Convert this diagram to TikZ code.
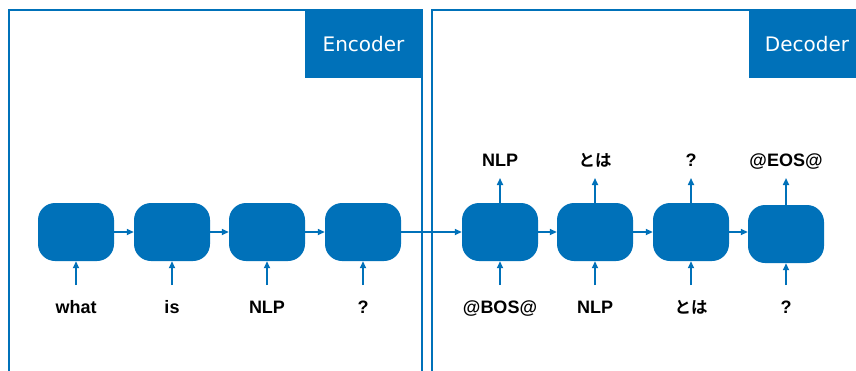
\documentclass[tikz,border=0pt]{standalone}
\usepackage{fontspec}
\setmainfont{Liberation Sans}
\newfontfamily\titlefont{DejaVu Sans}
\newfontfamily\jpfont{Noto Sans CJK JP Bold}
\usetikzlibrary{arrows.meta}
\definecolor{nlpblue}{RGB}{0,113,185}
\tikzset{
  frame/.style={draw=nlpblue, line width=2.8pt},
  tag/.style={fill=nlpblue, draw=none},
  tagtext/.style={text=white, font=\titlefont\fontsize{20}{24}\selectfont, inner sep=0pt},
  cell/.style={fill=nlpblue, draw=none, rounded corners=17pt, minimum width=76pt, minimum height=58pt, inner sep=0pt},
  flow/.style={draw=nlpblue, line width=1.6pt, -{Triangle[length=7pt,width=6pt]}},
  word/.style={font=\bfseries\fontsize{18}{21}\selectfont, text=black, inner sep=0pt, anchor=base},
  jword/.style={font=\jpfont\fontsize{16.5}{20}\selectfont, text=black, inner sep=0pt, anchor=base}
}
\begin{document}
\begin{tikzpicture}[x=1pt, y=-1pt]
  \clip (0,0) rectangle (856,370);
  \fill[white] (0,0) rectangle (856,370);

  % encoder and decoder frames, open at the bottom
  \draw[frame] (9,420) -- (9,10) -- (422,10) -- (422,420);
  \draw[frame] (432,420) -- (432,10) -- (880,10) -- (880,420);

  % header tabs
  \fill[tag] (305,10) rectangle (422,78);
  \node[tagtext] (enc) at (363.5,44) {Encoder};
  \fill[tag] (749,10) rectangle (880,78);
  \node[tagtext] (dec) at (807,44) {Decoder};

  % recurrent cells
  \node[cell] (e1) at (76,232) {};
  \node[cell] (e2) at (172,232) {};
  \node[cell] (e3) at (267,232) {};
  \node[cell] (e4) at (363,232) {};
  \node[cell] (d1) at (500,232) {};
  \node[cell] (d2) at (595,232) {};
  \node[cell] (d3) at (691,232) {};
  \node[cell] (d4) at (786,234) {};

  % hidden-state flow
  \draw[flow] (e1.east) -- (e2.west);
  \draw[flow] (e2.east) -- (e3.west);
  \draw[flow] (e3.east) -- (e4.west);
  \draw[flow] (e4.east) -- (d1.west);
  \draw[flow] (d1.east) -- (d2.west);
  \draw[flow] (d2.east) -- (d3.west);
  \draw[flow] (d3.east) -- (d4.west |- d3.east);

  % inputs
  \foreach \n/\x in {e1/76,e2/172,e3/267,e4/363,d1/500,d2/595,d3/691,d4/786} {
    \coordinate (in-\n) at (\x,285);
    \draw[flow] (in-\n) -- (\n.south);
  }
  \node[word] (t1) at (76,313) {what};
  \node[word] (t2) at (172,313) {is};
  \node[word] (t3) at (267,313) {NLP};
  \node[word] (t4) at (363,313) {?};
  \node[word] (t5) at (500,313) {@BOS@};
  \node[word] (t6) at (595,313) {NLP};
  \node[jword] (t7) at (691,313) {とは};
  \node[word] (t8) at (786,313) {?};

  % outputs
  \foreach \n/\x in {d1/500,d2/595,d3/691,d4/786} {
    \coordinate (out-\n) at (\x,178);
    \draw[flow] (\n.north) -- (out-\n);
  }
  \node[word] (u1) at (500,166) {NLP};
  \node[jword] (u2) at (595,166) {とは};
  \node[word] (u3) at (691,166) {?};
  \node[word] (u4) at (786,166) {@EOS@};
\end{tikzpicture}
\end{document}
